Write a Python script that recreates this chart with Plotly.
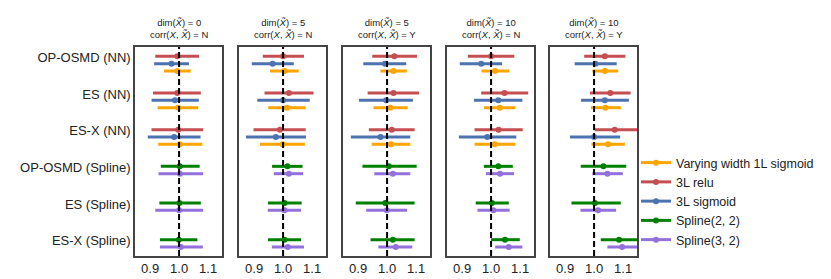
import plotly.graph_objects as go

W, H = 831, 279

panel_titles = [
    "dim(<i>X\u0303</i>) = 0<br>corr(<i>X</i>, <i>X\u0303</i>) = N",
    "dim(<i>X\u0303</i>) = 5<br>corr(<i>X</i>, <i>X\u0303</i>) = N",
    "dim(<i>X\u0303</i>) = 5<br>corr(<i>X</i>, <i>X\u0303</i>) = Y",
    "dim(<i>X\u0303</i>) = 10<br>corr(<i>X</i>, <i>X\u0303</i>) = N",
    "dim(<i>X\u0303</i>) = 10<br>corr(<i>X</i>, <i>X\u0303</i>) = Y",
]
row_labels = ["OP-OSMD (NN)", "ES (NN)", "ES-X (NN)",
              "OP-OSMD (Spline)", "ES (Spline)", "ES-X (Spline)"]
nn_rows = [0, 1, 2]
spline_rows = [3, 4, 5]
x_ticks = [0.9, 1.0, 1.1]

# per panel (5) x per row (3): lower, point estimate, upper
orange_lo = [[0.948, 0.926, 0.928], [0.955, 0.949, 0.920], [0.977, 0.953, 0.947], [0.967, 0.975, 0.943], [0.994, 0.989, 0.991]]
orange_mid = [[0.994, 0.997, 1.002], [1.005, 1.013, 0.998], [1.022, 1.011, 1.014], [1.014, 1.030, 1.013], [1.037, 1.039, 1.048]]
orange_hi = [[1.040, 1.066, 1.080], [1.054, 1.078, 1.075], [1.068, 1.071, 1.080], [1.062, 1.084, 1.084], [1.083, 1.092, 1.106]]

red_lo = [[0.918, 0.910, 0.905], [0.930, 0.936, 0.898], [0.949, 0.933, 0.937], [0.920, 0.966, 0.943], [0.966, 0.986, 1.002]]
red_mid = [[0.994, 0.994, 0.997], [1.000, 1.020, 0.989], [1.025, 1.022, 1.016], [1.000, 1.046, 1.026], [1.037, 1.056, 1.071]]
red_hi = [[1.069, 1.075, 1.083], [1.072, 1.105, 1.078], [1.103, 1.110, 1.095], [1.080, 1.128, 1.109], [1.108, 1.126, 1.160]]

blue_lo = [[0.914, 0.905, 0.892], [0.892, 0.911, 0.872], [0.918, 0.903, 0.875], [0.892, 0.941, 0.889], [0.933, 0.955, 0.917]]
blue_mid = [[0.974, 0.986, 0.983], [0.964, 1.000, 0.975], [0.993, 0.997, 0.977], [0.966, 1.025, 0.987], [1.005, 1.037, 1.000]]
blue_hi = [[1.034, 1.068, 1.074], [1.037, 1.092, 1.079], [1.066, 1.089, 1.080], [1.038, 1.108, 1.087], [1.078, 1.120, 1.090]]

green_lo = [[0.937, 0.932, 0.934], [0.962, 0.948, 0.948], [0.915, 0.892, 0.943], [0.975, 0.947, 1.000], [0.954, 0.922, 1.023]]
green_mid = [[1.002, 1.001, 0.999], [1.015, 1.005, 1.005], [1.006, 0.994, 1.020], [1.025, 1.003, 1.048], [1.032, 1.003, 1.086]]
green_hi = [[1.071, 1.075, 1.063], [1.067, 1.064, 1.062], [1.102, 1.095, 1.095], [1.075, 1.061, 1.099], [1.111, 1.092, 1.160]]

purple_lo = [[0.929, 0.918, 0.934], [0.968, 0.947, 0.961], [0.956, 0.928, 0.970], [0.982, 0.953, 1.014], [0.994, 0.953, 1.046]]
purple_mid = [[1.003, 1.000, 1.006], [1.020, 1.005, 1.016], [1.020, 0.999, 1.030], [1.031, 1.008, 1.061], [1.046, 1.014, 1.097]]
purple_hi = [[1.083, 1.083, 1.082], [1.069, 1.062, 1.072], [1.080, 1.069, 1.087], [1.079, 1.064, 1.108], [1.099, 1.076, 1.170]]

series = [
    ("Varying width 1L sigmoid", "#FFA500", nn_rows, 0.2, orange_lo, orange_mid, orange_hi),
    ("3L relu", "#C44E52", nn_rows, -0.2, red_lo, red_mid, red_hi),
    ("3L sigmoid", "#4C72B0", nn_rows, 0.0, blue_lo, blue_mid, blue_hi),
    ("Spline(2, 2)", "#008000", spline_rows, -0.2, green_lo, green_mid, green_hi),
    ("Spline(3, 2)", "#9370DB", spline_rows, 0.0, purple_lo, purple_mid, purple_hi),
]

FONT = "Liberation Sans, Arial, sans-serif"
panel_px = [(127, 214), (231, 318), (335, 422), (439, 526), (542, 629)]
top_px, bot_px = 39, 248
ydom = [1 - bot_px / H, 1 - top_px / H]

fig = go.Figure()

for p in range(5):
    ax = "" if p == 0 else str(p + 1)
    for name, color, rows, off, lo, mid, hi in series:
        xs = mid[p]
        fig.add_trace(go.Scatter(
            x=xs, y=[r + off for r in rows],
            xaxis="x" + ax, yaxis="y" + ax,
            mode="markers",
            marker=dict(color=color, size=6),
            error_x=dict(type="data", symmetric=False,
                         array=[h - m for h, m in zip(hi[p], xs)],
                         arrayminus=[m - l for m, l in zip(xs, lo[p])],
                         color=color, thickness=3, width=0),
            showlegend=False, name=name, hoverinfo="skip",
        ))

for name, color, *_ in series:
    fig.add_trace(go.Scatter(x=[None], y=[None], mode="lines+markers",
                             line=dict(color=color, width=3),
                             marker=dict(color=color, size=6),
                             name=name, showlegend=True))

layout = dict(
    width=W, height=H,
    margin=dict(l=0, r=0, t=0, b=0),
    paper_bgcolor="white", plot_bgcolor="white",
    font=dict(family=FONT, size=13, color="#222"),
    legend=dict(x=628 / W, y=1 - 140 / H, xanchor="left", yanchor="top",
                font=dict(size=12.5, color="#222"), tracegroupgap=0,
                bgcolor="rgba(0,0,0,0)"),
    annotations=[], shapes=[],
)

for p in range(5):
    ax = "" if p == 0 else str(p + 1)
    x0, x1 = panel_px[p]
    layout["xaxis" + ax] = dict(
        domain=[x0 / W, x1 / W], range=[0.848, 1.148], anchor="y" + ax,
        tickvals=x_ticks, ticktext=[f"{v:.1f}" for v in x_ticks],
        showgrid=False, zeroline=False, showline=True, mirror=True,
        linecolor="#444", linewidth=1.5, ticks="", automargin=False,
        tickfont=dict(size=13, color="#222"),
    )
    layout["yaxis" + ax] = dict(
        domain=ydom, range=[5.245, -0.455], anchor="x" + ax,
        tickvals=[i - 0.17 for i in range(len(row_labels))],
        ticktext=row_labels, showticklabels=(p == 0),
        showgrid=False, zeroline=False, showline=True, mirror=True,
        linecolor="#444", linewidth=1.5, ticks="", automargin=False,
        tickfont=dict(size=13, color="#222"),
    )
    layout["annotations"].append(dict(
        text=panel_titles[p], x=(x0 + x1) / 2 / W, y=1 - 20 / H,
        xref="paper", yref="paper", xanchor="center", yanchor="middle",
        showarrow=False, font=dict(size=9.5, color="#222"),
    ))
    layout["shapes"].append(dict(
        type="line", xref="x" + ax, yref=("y" + ax) + " domain",
        x0=1.0, x1=1.0, y0=0, y1=1, layer="above",
        line=dict(color="black", width=2, dash="6px,3px"),
    ))

fig.update_layout(**layout)
fig.write_html("out.html")
